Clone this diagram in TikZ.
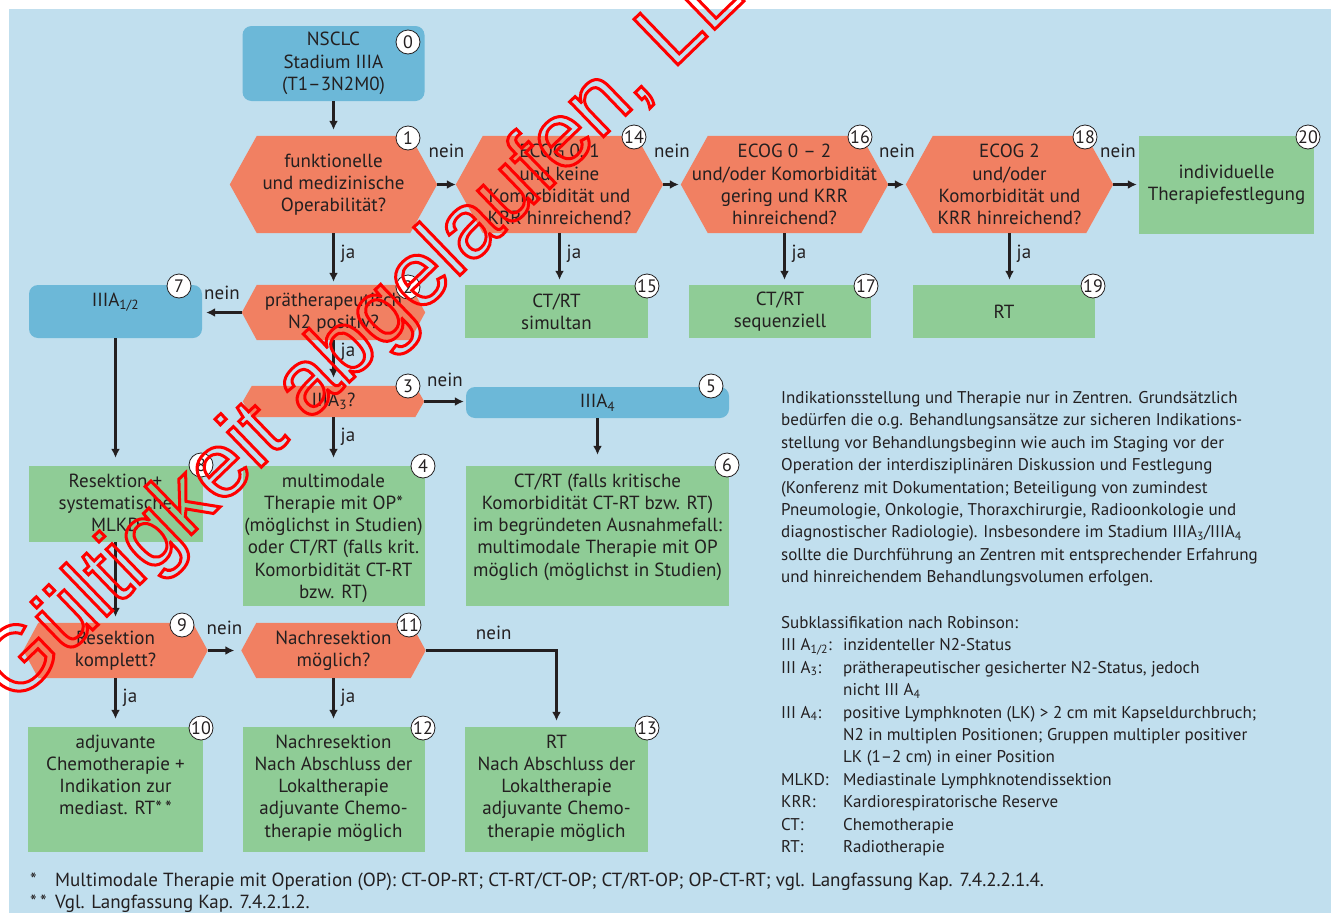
\documentclass[tikz,border=0pt]{standalone}
\usepackage{fontspec}
\setmainfont{PT Sans}
\newfontfamily\wmfont{Liberation Sans}
\usetikzlibrary{arrows.meta,backgrounds}
\definecolor{bgblue}{RGB}{193,223,238}
\definecolor{boxblue}{RGB}{108,184,216}
\definecolor{hexred}{RGB}{241,128,98}
\definecolor{boxgreen}{RGB}{143,204,150}
\definecolor{ink}{RGB}{35,31,32}
\newcommand{\txtfont}{\fontsize{19}{22.3}\selectfont}
\newcommand{\notefont}{\fontsize{17}{22.4}\selectfont}
% text hanging from the top edge of a box
\newcommand{\topcell}[3]{\parbox[c][#2][t]{#1}{\centering\rule{0pt}{21pt}#3}}
% hollow letters for the stamp
\newcommand{\hollow}[1]{\special{pdf:literal direct 1 Tr 3 w}#1\special{pdf:literal direct 0 Tr}}

\begin{document}
\begin{tikzpicture}[x=1pt,y=-1pt,
every node/.style={text=ink},
decide/.style={font=\txtfont, align=center, inner sep=0pt},
bluebox/.style={font=\txtfont, align=center, inner sep=0pt, fill=boxblue, rounded corners=9pt},
greenbox/.style={font=\txtfont, align=center, inner sep=0pt, fill=boxgreen},
num/.style={circle, draw=ink, line width=0.8pt, fill=white, minimum size=24pt, inner sep=0pt, font=\fontsize{18}{18}\selectfont},
flow/.style={draw=ink, line width=2.4pt, -{Latex[length=9pt,width=9pt]}, shorten >=2pt},
down/.style={flow, shorten >=6pt},
jalbl/.style={font=\txtfont, inner sep=0pt, right=6pt, pos=0.4},
neinlbl/.style={font=\txtfont, inner sep=0pt, above=#1},
stamp/.style={font={\wmfont\fontsize{92}{92}\selectfont}, text=red, inner sep=0pt}]
\useasboundingbox (0,0) rectangle (1331,913);

% top row
\node[bluebox, minimum width=182pt, minimum height=75pt] (n0) at (333.5,63.5) {NSCLC\\Stadium IIIA\\(T1–3N2M0)};
\node[decide, minimum width=207pt, minimum height=97pt] (n1) at (333.5,184.5) {funktionelle\\und medizinische\\Operabilität?};
\node[decide, minimum width=207pt, minimum height=97pt] (n14) at (559.5,184.5) {ECOG 0, 1\\und keine\\Komorbidität und\\KRR hinreichend?};
\node[decide, minimum width=207pt, minimum height=97pt] (n16) at (784.5,184.5) {ECOG 0 – 2\\und/oder Komorbidität\\gering und KRR\\hinreichend?};
\node[decide, minimum width=207pt, minimum height=97pt] (n18) at (1009.5,184.5) {ECOG 2\\und/oder\\Komorbidität und\\KRR hinreichend?};
\node[greenbox, minimum width=175pt, minimum height=98pt] (n20) at (1226.5,185) {individuelle\\Therapiefestlegung};
\node[greenbox, minimum width=183pt, minimum height=53pt] (n15) at (556.5,311.5) {CT/RT\\simultan};
\node[greenbox, minimum width=182pt, minimum height=53pt] (n17) at (780,311.5) {CT/RT\\sequenziell};
\node[greenbox, minimum width=182pt, minimum height=53pt] (n19) at (1004,311.5) {RT};

% middle part
\node[decide, minimum width=183pt, minimum height=55pt] (n2) at (333.5,312.5) {prätherapeutisch\\N2 positiv?};
\node[bluebox] (n7) at (115.5,311.5) {\topcell{173pt}{53pt}{IIIA\textsubscript{1/2}}};
\node[decide, minimum width=181pt, minimum height=31pt] (n3) at (333.5,401.5) {IIIA\textsubscript{3}?};
\node[bluebox, minimum width=263pt, minimum height=31pt] (n5) at (597.5,402.5) {IIIA\textsubscript{4}};
\node[greenbox] (n4) at (333.5,536) {\topcell{182pt}{140pt}{multimodale\\Therapie mit OP*\\(möglichst in Studien)\\oder CT/RT (falls krit.\\Komorbidität CT-RT\\bzw. RT)}};
\node[greenbox] (n6) at (597.5,536) {\topcell{263pt}{140pt}{CT/RT (falls kritische\\Komorbidität CT-RT bzw. RT)\\im begründeten Ausnahmefall:\\multimodale Therapie mit OP\\möglich (möglichst in Studien)}};
\node[greenbox] (n8) at (115.5,504) {\topcell{174pt}{76pt}{Resektion +\\systematische\\MLKD}};

% bottom part
\node[decide, minimum width=184pt, minimum height=55pt] (n9) at (115.5,650.5) {Resektion\\komplett?};
\node[decide, minimum width=184pt, minimum height=55pt] (n11) at (333.5,650.5) {Nachresektion\\möglich?};
\node[greenbox] (n10) at (115.5,789.5) {\topcell{175pt}{125pt}{adjuvante\\Chemotherapie +\\Indikation zur\\mediast. RT*\,*}};
\node[greenbox] (n12) at (333.5,789.5) {\topcell{182pt}{125pt}{Nachresektion\\Nach Abschluss der\\Lokaltherapie\\adjuvante Chemo-\\therapie möglich}};
\node[greenbox] (n13) at (556.5,789.5) {\topcell{183pt}{125pt}{RT\\Nach Abschluss der\\Lokaltherapie\\adjuvante Chemo-\\therapie möglich}};

% background and hexagons behind the nodes
\begin{pgfonlayer}{background}
\fill[white] (0,0) rectangle (1331,913);
\fill[bgblue] (9,9) rectangle (1331,913);
\foreach \n/\c in {n1/27,n14/27,n16/27,n18/27,n2/15,n3/9,n9/15,n11/15}
  \fill[hexred] (\n.west) -- ([xshift=\c pt]\n.north west) -- ([xshift=-\c pt]\n.north east) -- (\n.east) -- ([xshift=-\c pt]\n.south east) -- ([xshift=\c pt]\n.south west) -- cycle;
\end{pgfonlayer}

% connectors
\draw[down] (n0) -- (n1);
\draw[flow, shorten >=0pt] (n1.east) -- node[neinlbl=26pt] {nein} (n14.west);
\draw[flow] (n14.east) -- node[neinlbl=26pt] {nein} (n16.west);
\draw[flow] (n16.east) -- node[neinlbl=26pt] {nein} (n18.west);
\draw[flow] (n18.east) -- node[neinlbl=26pt, xshift=-8pt] {nein} (n20.west |- n18.east);
\draw[down, shorten >=3pt] (n1) -- node[jalbl] {ja} (n2);
\draw[down, shorten >=5pt] (n14) -- node[jalbl] {ja} (n14 |- n15.north);
\draw[down, shorten >=5pt] (n16) -- node[jalbl] {ja} (n16 |- n17.north);
\draw[down, shorten >=5pt] (n18) -- node[jalbl] {ja} (n18 |- n19.north);
\draw[flow, shorten >=4pt] (n2) -- node[neinlbl=12pt] {nein} (n2 -| n7.east);
\draw[down, shorten >=8pt] (n2) -- node[jalbl, pos=0.25] {ja} (n3);
\draw[flow] (n3) -- node[neinlbl=14pt] {nein} (n3 -| n5.west);
\draw[down, shorten >=11pt] (n5) -- (n6);
\draw[down, shorten >=8pt] (n3) -- node[jalbl] {ja} (n4);
\draw[down, shorten >=8pt] (n7) -- (n8);
\draw[down] (n8) -- (n9);
\draw[flow, shorten >=7pt] (n9) -- node[neinlbl=15pt] {nein} (n11);
\draw[down, shorten >=8pt] (n9) -- node[jalbl] {ja} (n10);
\draw[down, shorten >=8pt] (n11) -- node[jalbl] {ja} (n12);
\draw[down] (n11) -| node[neinlbl=10pt, pos=0.26] {nein} (n13);

% numbered markers
\foreach \k/\x/\y in {0/408/42, 1/408/138, 14/634/137, 16/860/137, 18/1085/137, 20/1308/137, 15/647/286, 17/866/286, 19/1093/286, 2/408/287, 7/179/286, 3/408/386, 5/711/386, 4/423/466, 6/727/465, 8/201/465, 9/182/625, 11/409/625, 10/201/728, 12/423/728, 13/647/728}
  \node[num] (c\k) at (\x,\y) {\k};

% notes on the right
\node[font=\notefont, align=left, inner sep=0pt, anchor=north west] (info) at (781,387.7) {\strut Indikationsstellung und Therapie nur in Zentren. Grundsätzlich\\
bedürfen die o.g. Behandlungsansätze zur sicheren Indikations-\\
stellung vor Behandlungsbeginn wie auch im Staging vor der\\
Operation der interdisziplinären Diskussion und Festlegung\\
(Konferenz mit Dokumentation; Beteiligung von zumindest\\
Pneumologie, Onkologie, Thoraxchirurgie, Radioonkologie und\\
diagnostischer Radiologie). Insbesondere im Stadium IIIA\textsubscript{3}/IIIA\textsubscript{4}\\
sollte die Durchführung an Zentren mit entsprechender Erfahrung\\
und hinreichendem Behandlungsvolumen erfolgen.};
\node[font=\notefont, align=left, inner sep=0pt, anchor=north west] (subkl) at (781,612.7) {\strut Subklassifikation nach Robinson:\\
\makebox[62pt][l]{III A\textsubscript{1/2}:}inzidenteller N2-Status\\
\makebox[62pt][l]{III A\textsubscript{3}:}prätherapeutischer gesicherter N2-Status, jedoch\\
\hspace*{62pt}nicht III A\textsubscript{4}\\
\makebox[62pt][l]{III A\textsubscript{4}:}positive Lymphknoten (LK) > 2 cm mit Kapseldurchbruch;\\
\hspace*{62pt}N2 in multiplen Positionen; Gruppen multipler positiver\\
\hspace*{62pt}LK (1–2 cm) in einer Position\\
\makebox[62pt][l]{MLKD:}Mediastinale Lymphknotendissektion\\
\makebox[62pt][l]{KRR:}Kardiorespiratorische Reserve\\
\makebox[62pt][l]{CT:}Chemotherapie\\
\makebox[62pt][l]{RT:}Radiotherapie};
\node[font=\fontsize{19}{21.4}\selectfont, align=left, inner sep=0pt, anchor=north west] (notes) at (30,871.7) {\strut\makebox[25pt][l]{*}Multimodale Therapie mit Operation (OP): CT-OP-RT; CT-RT/CT-OP; CT/RT-OP; OP-CT-RT; vgl. Langfassung Kap. 7.4.2.2.1.4.\\
\makebox[25pt][l]{*\,*}Vgl. Langfassung Kap. 7.4.2.1.2.};

% stamp across the sheet
\begin{scope}
\clip (0,0) rectangle (1331,913);
\node[stamp, anchor=base west, rotate=44] (wm) at (14,706) {\hollow{Gültigkeit abgelaufen, LL}};
\end{scope}
\end{tikzpicture}
\end{document}
